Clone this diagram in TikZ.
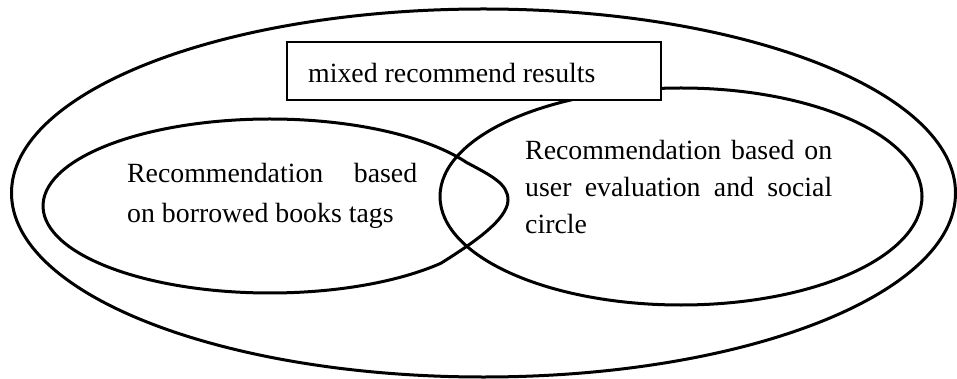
\documentclass[tikz,border=0pt]{standalone}
\usepackage{fontspec}
\setmainfont{Liberation Serif}
\begin{document}
\begin{tikzpicture}[x=1pt,y=-1pt,
  curve/.style={line width=3pt},
  label/.style={anchor=base west,inner sep=0pt,font=\fontsize{27.8pt}{33pt}\selectfont},
  resbox/.style={draw,line width=1.6pt,fill=white,minimum width=374pt,minimum height=58pt,inner sep=0pt}]
\useasboundingbox (0,0) rectangle (957,379);
% outer ellipse
\draw[curve] (483.5,193) ellipse [x radius=472, y radius=184];
% right ellipse
\draw[curve] (681,196.5) ellipse [x radius=241, y radius=108.5];
% left (distorted) ellipse
\draw[curve] (440.8,263.3) arc[start angle=41.2, end angle=330, x radius=227, y radius=87]
  .. controls (492,176) and (508,184) .. (508,200)
  .. controls (508,220) and (470,245) .. (440.8,263.3);
% box
\node[resbox] (box) at (474,71) {};
\node[label] (boxtext) at (308,83) {mixed recommend results};
% left texts
\node[label] (l1) at (127,183) {\makebox[290pt][s]{Recommendation based}};
\node[label] (l2) at (127,222.5) {on borrowed books tags};
% right texts
\node[label] (r1) at (525,160) {\makebox[307pt][s]{Recommendation based on}};
\node[label] (r2) at (525,196.8) {\makebox[307pt][s]{user evaluation and social}};
\node[label] (r3) at (525,233.3) {circle};
\end{tikzpicture}
\end{document}
